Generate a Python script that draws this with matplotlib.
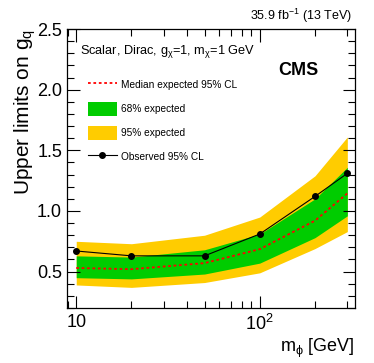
import matplotlib
matplotlib.use("Agg")
import matplotlib.pyplot as plt
from matplotlib.ticker import LogLocator, MultipleLocator, FixedLocator, FixedFormatter, NullFormatter

plt.rcParams['font.family'] = ['Liberation Sans', 'DejaVu Sans']
plt.rcParams['mathtext.fontset'] = 'custom'
plt.rcParams['mathtext.rm'] = 'Liberation Sans'
plt.rcParams['mathtext.it'] = 'Liberation Sans'

# mediator masses [GeV]
mass = [10, 20, 50, 100, 200, 300]
# upper limits on g_q
observed = [0.67, 0.63, 0.63, 0.81, 1.12, 1.31]
median = [0.53, 0.52, 0.57, 0.685, 0.92, 1.145]
band68_lo = [0.45, 0.44, 0.48, 0.57, 0.78, 0.96]
band68_hi = [0.63, 0.62, 0.68, 0.81, 1.10, 1.36]
band95_lo = [0.39, 0.37, 0.41, 0.49, 0.69, 0.83]
band95_hi = [0.75, 0.73, 0.80, 0.95, 1.29, 1.61]

fig = plt.figure(figsize=(3.74, 3.63), dpi=100)
ax = fig.add_axes([0.179, 0.1515, 0.77, 0.7685])

ax.fill_between(mass, band95_lo, band95_hi, color='#ffcc00', lw=0, label='95% expected')
ax.fill_between(mass, band68_lo, band68_hi, color='#00cc00', lw=0, label='68% expected')
ax.plot(mass, median, color='red', ls=(0, (1.5, 1.5)), lw=1.3, label='Median expected 95% CL')
ax.plot(mass, observed, color='black', lw=0.8, marker='o', ms=4, label='Observed 95% CL')

ax.set_xscale('log')
ax.set_xlim(8.9, 330)
ax.set_ylim(0.2, 2.5)

ax.xaxis.set_major_locator(FixedLocator([10, 100]))
ax.xaxis.set_major_formatter(FixedFormatter(['10', r'$10^2$']))
ax.xaxis.set_minor_locator(LogLocator(base=10, subs=range(2, 10)))
ax.xaxis.set_minor_formatter(NullFormatter())
ax.yaxis.set_major_locator(MultipleLocator(0.5))
ax.yaxis.set_minor_locator(MultipleLocator(0.1))
ax.yaxis.set_major_formatter(plt.FuncFormatter(lambda v, p: f'{v:.1f}'))

ax.tick_params(which='both', direction='in', top=True, right=True, labelsize=13, width=0.8)
ax.tick_params(which='major', length=9)
ax.tick_params(which='minor', length=5)
ax.tick_params(axis='x', pad=4)
for s in ax.spines.values():
    s.set_linewidth(0.9)

ax.set_xlabel(r'm$_{\phi}$ [GeV]', fontsize=13, loc='right', labelpad=2)
ax.set_ylabel(r'Upper limits on g$_{\rm q}$', fontsize=15, loc='top')
ax.yaxis.set_label_coords(-0.1, 1.0)

h, l = ax.get_legend_handles_labels()
order = [2, 1, 0, 3]
ax.legend([h[i] for i in order], [l[i] for i in order], loc='upper left',
          bbox_to_anchor=(0.059, 0.839), frameon=False, fontsize=7.3,
          handlelength=2.85, handleheight=1.75, labelspacing=0.98, handletextpad=0.45,
          borderaxespad=0.0)

ax.text(0.045, 0.918, r'Scalar, Dirac, g$_{\chi}$=1, m$_{\chi}$=1 GeV', transform=ax.transAxes,
        fontsize=9.2, va='center', ha='left')
ax.text(0.805, 0.853, 'CMS', transform=ax.transAxes, fontsize=13, fontweight='bold',
        ha='center', va='center')
fig.text(0.94, 0.955, r'35.9 fb$^{-1}$ (13 TeV)', fontsize=9, ha='right', va='center')

fig.savefig('out.png', dpi=100)
